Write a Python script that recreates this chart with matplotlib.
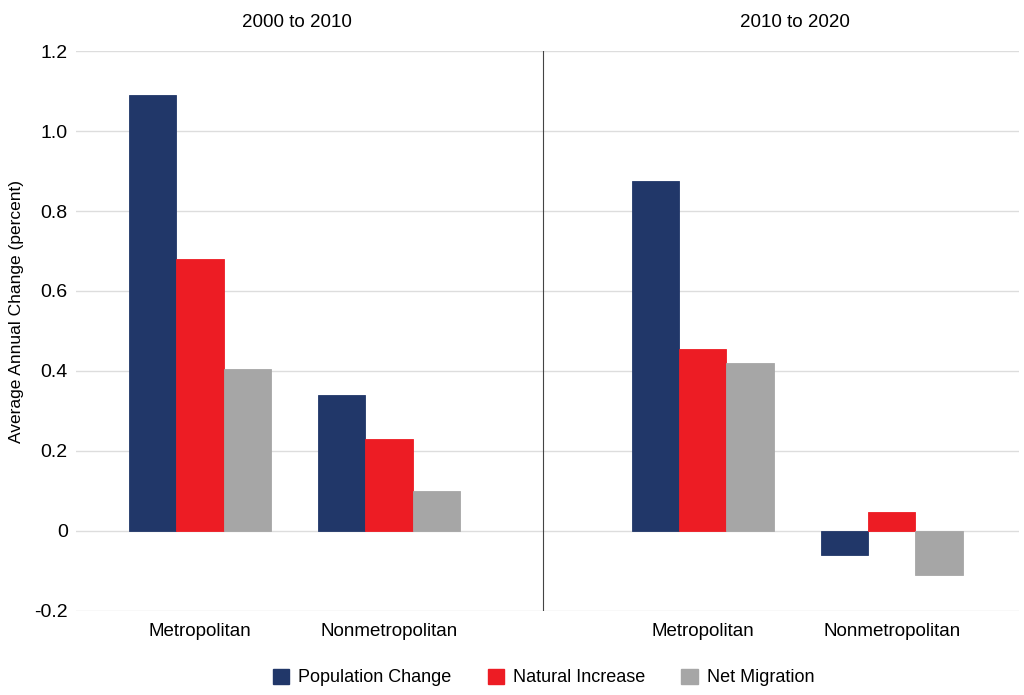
import numpy as np
import matplotlib.pyplot as plt
from matplotlib.patches import Patch

plt.rcParams['font.family'] = ['Liberation Sans', 'DejaVu Sans']

# Dados (variação média anual, %)
periodos = ['2000 to 2010', '2010 to 2020']
categorias = ['Metropolitan', 'Nonmetropolitan', 'Metropolitan', 'Nonmetropolitan']
series = ['Population Change', 'Natural Increase', 'Net Migration']
pop_change = [1.09, 0.34, 0.875, -0.06]
natural_inc = [0.68, 0.23, 0.455, 0.047]
net_migr = [0.405, 0.10, 0.42, -0.11]
yticks = [-0.2, 0, 0.2, 0.4, 0.6, 0.8, 1.0, 1.2]
ytick_labels = ['-0.2', '0', '0.2', '0.4', '0.6', '0.8', '1.0', '1.2']

cores = ['#213769', '#ED1C24', '#A6A6A6']

# posições dos grupos (layout)
xpos = np.array([0, 1, 2.66, 3.66])
w = 0.25

fig = plt.figure(figsize=(10.24, 6.95), dpi=100)
ax = fig.add_axes([0.0742, 0.1209, 0.9208, 0.8057])

for i, (vals, cor, nome) in enumerate(zip([pop_change, natural_inc, net_migr], cores, series)):
    ax.bar(xpos + (i - 1) * w, vals, width=w, color=cor, edgecolor=cor,
           linewidth=0.6, label=nome, zorder=3)

ax.set_xlim(-0.656, 4.333)
ax.set_ylim(-0.2, 1.2)
ax.set_yticks(yticks)
ax.set_yticklabels(ytick_labels, fontsize=14)
ax.set_xticks(xpos)
ax.set_xticklabels(categorias, fontsize=13.5)
ax.tick_params(axis='x', length=0, pad=9)
ax.tick_params(axis='y', length=0, pad=6)
ax.grid(axis='y', color='#DDDDDD', linewidth=1, zorder=0)
for s in ax.spines.values():
    s.set_visible(False)

# divisor entre períodos
ax.axvline(1.815, ymin=0, ymax=1, color='#444444', linewidth=0.8, zorder=4)

ax.text(0.513, 1.035, periodos[0], transform=ax.get_xaxis_transform(),
        ha='center', va='bottom', fontsize=13.5)
ax.text(3.148, 1.035, periodos[1], transform=ax.get_xaxis_transform(),
        ha='center', va='bottom', fontsize=13.5)

ax.set_ylabel('Average Annual Change (percent)', fontsize=12.5)
ax.yaxis.set_label_coords(-0.055, 0.534)

handles = [Patch(facecolor=c, edgecolor=c) for c in cores]
fig.legend(handles, series, loc='center', bbox_to_anchor=(0.531, 0.025), ncol=3,
           frameon=False, fontsize=13, handlelength=0.9, handleheight=0.9,
           handletextpad=0.5, columnspacing=2.0)

plt.savefig('out.png', dpi=100)
